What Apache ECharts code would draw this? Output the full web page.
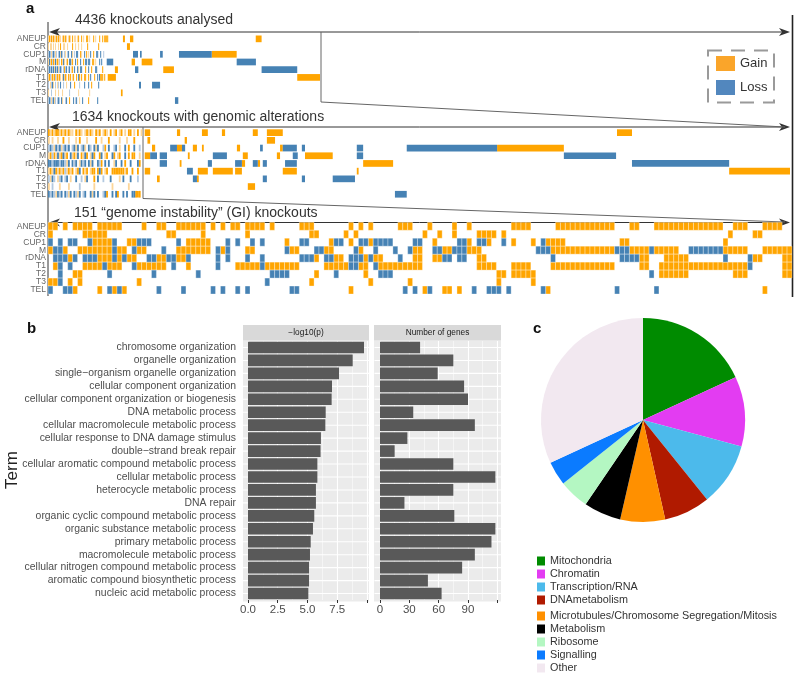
<!DOCTYPE html>
<html><head><meta charset="utf-8">
<script src="https://cdn.jsdelivr.net/npm/echarts@6/dist/echarts.min.js"></script>
<style>html,body{margin:0;padding:0;background:#fff}#c{width:800px;height:676px}</style>
</head><body><div id="c"></div>
<script>
const FONT = '"Liberation Sans", Arial, Helvetica, sans-serif';
const rowNames = ['ANEUP','CR','CUP1','M','rDNA','T1','T2','T3','TEL'];

// Panel a, top: 4436 knockouts. Dense strip: each character = 6 knockouts (G gain, g faint gain, L loss, l faint loss)
const topBin = 6;
const topDense = [
  "gGgGgGggGgGgg.gGgGg.gGg.G.gg.gG..G.g..GG.g...G.g...G..G.GGGG",
  "g.gg.g.g..g.G..gg..g....G..g..g..g.....G..........G.........",
  "lLlglLlgl.lLgLl.lg.lL..Lg.l.LL..Gg..L.G.g.L..G..LL..L..l....",
  "gLgGlGgLgGgl.GgLg.gG.LLgG..L.G..L..G.LL.LL..GG.g...L.L......",
  "lLlLlLgLlLglLl.lGlL.lL.gG.L..Lg.LL...G..L..G...LL.....G.....",
  "gGlgGgGlgGgGg.gLgGg.GgG.gG..G.LG.G..GG..G.L...G..L..GGG.G...",
  "l.glLg.l.gl.L..l..g...L...G....l....L...L..G......L.........",
  "g..l...g..g...g......l........g..........g..................",
  "lLlglLgl.lLl.Lg..lL..G...L.lL..g..L.....G........L.........."
];
// [row, first knockout, last knockout, type]
const topBlocks = [
  [0,448,460,'G'],[0,490,510,'G'],[0,1242,1277,'G'],
  [1,472,490,'G'],
  [2,508,538,'L'],[2,550,560,'L'],[2,670,686,'L'],[2,783,979,'L'],[2,979,1128,'G'],
  [3,351,390,'L'],[3,500,520,'G'],[3,560,624,'G'],[3,1128,1243,'L'],
  [4,400,418,'G'],[4,520,540,'L'],[4,689,753,'G'],[4,1277,1490,'L'],
  [5,305,311,'L'],[5,357,406,'G'],[5,1490,1626,'G'],
  [6,544,556,'L'],[6,622,670,'L'],
  [7,436,446,'G'],
  [8,759,779,'L']
];

// Panel a, middle: 1634 knockouts. Dense strip: each character = 4 knockouts
const midBin = 4;
const midDense = [
  "GgGgGGgGgGgGgg.GgGg.gGgGg.GgG.gGg.G.gG.gG.g.GG.g.G.g",
  "g.g..g..G..g...g.G...g....G..g...G.....g...g...G....",
  "lLlgLlLglLlL.lLgL.lLg.Ll.LgL..lG.L..lL.g..L.G..L..l",
  "gGlGgLgGLgG.LgGgL.GgLG.gLG..GL.gG..LG.gG..L.G.GG..g",
  "LLlLLLlLLlgL.LlL.gLlL.LgL..LlG.L.L..gL..L.G..L...LG",
  "gGgLGgGgGlgGgG.gGL.GgG.gGG.GLG.gG..GGGGGGGgG..G..G.",
  "lgLl.glL.lL.g..L..l.gL...G.L..l...L....g.L...L...l.",
  "g.l...g....g.....l.......g.........g........g......",
  "LlLlgLlL.LlgL.LlgL.lL..LgL.L..lLG..L.LG..L.L..LLGGG"
];
const midBlocks = [
  [0,213,225,'G'],[0,284,291,'G'],[0,339,352,'G'],[0,383,390,'G'],[0,451,462,'G'],[0,482,517,'G'],[0,1253,1286,'G'],
  [1,219,225,'G'],[1,301,306,'G'],[1,482,500,'G'],
  [2,229,236,'G'],[2,269,284,'L'],[2,284,295,'G'],[2,295,302,'L'],[2,319,328,'G'],[2,339,343,'G'],[2,416,423,'G'],[2,467,473,'L'],[2,511,517,'G'],[2,517,548,'L'],[2,559,566,'L'],[2,680,694,'L'],[2,790,989,'L'],[2,989,1136,'G'],
  [3,213,225,'G'],[3,225,240,'L'],[3,246,262,'L'],[3,308,312,'G'],[3,363,394,'L'],[3,429,440,'G'],[3,504,511,'G'],[3,539,550,'L'],[3,566,627,'G'],[3,680,694,'L'],[3,1136,1251,'L'],
  [4,246,262,'L'],[4,290,294,'G'],[4,352,361,'L'],[4,412,427,'L'],[4,427,434,'G'],[4,451,462,'L'],[4,462,467,'G'],[4,473,482,'L'],[4,522,548,'L'],[4,694,760,'G'],[4,1286,1500,'L'],
  [5,213,225,'G'],[5,306,319,'L'],[5,330,352,'G'],[5,363,407,'G'],[5,412,427,'G'],[5,517,548,'G'],[5,680,684,'G'],[5,1500,1634,'G'],
  [6,240,246,'G'],[6,319,328,'L'],[6,328,332,'G'],[6,473,482,'L'],[6,559,566,'L'],[6,627,676,'L'],
  [7,440,456,'G'],
  [8,764,790,'L']
];

// Panel a, bottom: 151 GI knockouts, runs of columns per row
const giRuns = [
  "G0-1 G3 G5-8 G10-14 G19 G22-23 G26-31 G33 G35 G37-38 G40-43 G45 G51-53 G61 G63 G65 G71-73 G77 G82 G85 G94-97 G103-114 G118-119 G123-136 G139-141 G145-148",
  "G0 G7-11 G24-25 G31 G40 G53-54 G60 G62 G76 G79 G82 G87-90 G92 G138 G143-144",
  "L0 L2 L4-5 L8 G9-12 L13 G16-17 L18-20 L26 G28-32 L36 L38 L41 L43 G48 L51-52 G57 L58-59 G61 L63-64 G65 L66-69 L74-75 G78 L83-84 G85 L87-88 G89 L92 G94 G98 L100 G101-104 G116-117 G137",
  "G0 L1-2 G3 G6-12 L13 G14-15 L17 G18-19 L23 G26-32 L34 G35 L36 G40-41 L48 G49-50 L54-55 G56-57 L62 G63 L66 L70 L73 G74-75 L78-79 G80-81 L82-84 G85-87 L99-101 G102-114 L115-117 G118-121 L122 G123-127 L130-136 G137-141 G145-150",
  "L1-3 G4 L5 L7-9 G10-12 L13 G14 L15 G16-17 L20-21 G22-23 L24-25 G26-27 L28 L34 L36 L40 L43 L51-53 G54 L56-57 G58-59 L61-63 G64 L65 G66-67 L71 G74-75 G78-79 L80-81 L83-84 G87-88 L102 L116-119 G120-121 G125-129 L137 L142 G143-144 G149-150",
  "G1 L2 L4 G7-10 L11 G12-14 L17 G18-23 L25 G28 L34 G38-42 L43 G44-50 G56-60 L61-62 G63-64 L66 G67-75 G87-90 G94-97 G102-114 G120-121 G124-141 L142 G149-150",
  "L2 G5-6 L12 L21 L30 L45-48 G54 L58 G64 L67-69 G91-92 G94-98 L122 G124-129 G139-141 G149-150",
  "G0-1 L2 G4 G6 G18 L44 G53 G65 G73 G91 G98",
  "L0 L3-4 G5 G10 L12 G13 L14 G15 L22 L27 L33 L35 L38 L40 L49-50 G61 L72 L74 G76 L77 G80-81 G83 L86 L89-91 L93 L100 G101 L115 L123 G145"
];

// Panel b
const terms = ['chromosome organization','organelle organization','single\u2212organism organelle organization','cellular component organization','cellular component organization or biogenesis','DNA metabolic process','cellular macromolecule metabolic process','cellular response to DNA damage stimulus','double\u2212strand break repair','cellular aromatic compound metabolic process','cellular metabolic process','heterocycle metabolic process','DNA repair','organic cyclic compound metabolic process','organic substance metabolic process','primary metabolic process','macromolecule metabolic process','cellular nitrogen compound metabolic process','aromatic compound biosynthetic process','nucleic acid metabolic process'];
const logP = [9.75, 8.8, 7.65, 7.06, 7.03, 6.53, 6.5, 6.13, 6.1, 5.83, 5.83, 5.71, 5.71, 5.57, 5.46, 5.27, 5.21, 5.13, 5.13, 5.07];
const geneCount = [41, 75, 59, 86, 90, 34, 97, 28, 15, 75, 118, 75, 25, 76, 118, 114, 97, 84, 49, 63];
const logTicks = [0, 2.5, 5, 7.5, 10];
const logLabels = [0, 2.5, 5, 7.5];
const geneTicks = [0, 30, 60, 90, 120];
const geneLabels = [0, 30, 60, 90];

// Panel c
const pieNames = ['Mitochondria','Chromatin','Transcription/RNA','DNAmetabolism','Microtubules/Chromosome Segregation/Mitosis','Metabolism','Ribosome','Signalling','Other'];
const pieValues = [18.1, 11.1, 10.0, 7.3, 7.1, 5.9, 4.8, 3.8, 31.9];
const pieColors = ['#008B00','#E33CF2','#4CBAEB','#B01A00','#FF9000','#000000','#B4F7C2','#0B7BFF','#F2E8F0'];

// ---------- build ----------
const SHADE = ['#FFA500', '#FCD699', '#4682B4', '#B3C9E0'];
const CODE = {G:0, g:1, L:2, l:3};
function fromDense(strs, bin) {
  const out = [];
  strs.forEach((s, r) => { for (let k = 0; k < s.length; k++) { const ch = s[k]; if (ch in CODE) out.push([k*bin, (k+1)*bin, r, CODE[ch]]); } });
  return out;
}
function fromBlocks(bl) { return bl.map(b => [b[1], b[2], b[0], CODE[b[3]]]); }
function fromRuns(rows) {
  const out = [];
  rows.forEach((s, r) => s.trim().split(/\s+/).forEach(tok => {
    const t = tok[0]; const parts = tok.slice(1).split('-').map(Number);
    const a = parts[0], e = parts.length > 1 ? parts[1] : parts[0];
    for (let i = a; i <= e; i++) out.push([i, i+1, r, CODE[t]]);
  }));
  return out;
}
const heatData = [
  fromDense(topDense, topBin).concat(fromBlocks(topBlocks)),
  fromDense(midDense, midBin).concat(fromBlocks(midBlocks)),
  fromRuns(giRuns)
];

function heatRender(gap, cellStroke) {
  return function (params, api) {
    const r = api.value(2);
    const p0 = api.coord([api.value(0), r]);
    const p1 = api.coord([api.value(1), r]);
    const h = api.size([0, 1])[1];
    const w = Math.max(p1[0] - p0[0], 0.9);
    return {type: 'rect', shape: {x: p0[0], y: p0[1] - h/2 + gap/2, width: w, height: h - gap},
      style: {fill: SHADE[api.value(3)], stroke: cellStroke || null, lineWidth: cellStroke ? 0.6 : 0}};
  };
}

const heatSeries = [];
heatData.forEach((d, gi) => {
  const render = gi === 2 ? heatRender(0, 'rgba(255,255,255,0.55)') : heatRender(1, null);
  heatSeries.push({type: 'custom', name: 'Gain', xAxisIndex: gi, yAxisIndex: gi, itemStyle: {color: '#FAA52A'},
    data: d.filter(x => x[3] < 2), encode: {x: [0, 1], y: 2}, renderItem: render, silent: true});
  heatSeries.push({type: 'custom', name: 'Loss', xAxisIndex: gi, yAxisIndex: gi, itemStyle: {color: '#5287BE'},
    data: d.filter(x => x[3] >= 2), encode: {x: [0, 1], y: 2}, renderItem: render, silent: true});
});

function barRender(params, api) {
  const i = api.value(1);
  const p0 = api.coord([0, i]);
  const p1 = api.coord([api.value(0), i]);
  const band = api.size([0, 1])[1];
  const cs = params.coordSys;
  return {type: 'group', children: [
    {type: 'line', shape: {x1: cs.x - 5.5, y1: p0[1], x2: cs.x + cs.width, y2: p0[1]}, style: {stroke: '#FFFFFF', lineWidth: 1.1}},
    {type: 'rect', shape: {x: p0[0], y: p0[1] - band*0.45, width: p1[0] - p0[0], height: band*0.9}, style: {fill: '#595959'}}
  ]};
}

const heatY = (gi) => ({type: 'category', gridIndex: gi, data: rowNames, inverse: true,
  axisLine: {show: false}, splitLine: {show: false},
  axisTick: {alignWithLabel: true, interval: 0, length: 3, lineStyle: {color: '#777'}},
  axisLabel: {interval: 0, fontSize: 8.5, color: '#666', margin: 2, fontFamily: FONT}});
const heatX = (gi, max) => ({type: 'value', gridIndex: gi, min: 0, max: max, show: false});

const barX = (gi, max, interval, ticks, labels, fmt) => ({type: 'value', gridIndex: gi, min: 0, max: max, interval: interval,
  axisLine: {show: false},
  axisTick: {show: true, length: 3, lineStyle: {color: '#333'}, customValues: ticks},
  axisLabel: {fontSize: 11.5, color: '#4D4D4D', margin: 4, fontFamily: FONT, customValues: labels, formatter: fmt,
    showMaxLabel: true, showMinLabel: true},
  splitLine: {show: true, lineStyle: {color: '#FFFFFF', width: 1.1}},
  minorTick: {show: false, splitNumber: 2},
  minorSplitLine: {show: true, lineStyle: {color: '#FFFFFF', width: 0.5}}});

function arrow(y, x0, x1) {
  const c = '#333';
  return [
    {type: 'line', shape: {x1: x0 + 6, y1: y, x2: x1 - 6, y2: y}, style: {stroke: c, lineWidth: 1}},
    {type: 'polygon', shape: {points: [[x0, y], [x0 + 11, y - 4], [x0 + 8, y], [x0 + 11, y + 4]]}, style: {fill: c}},
    {type: 'polygon', shape: {points: [[x1, y], [x1 - 11, y - 4], [x1 - 8, y], [x1 - 11, y + 4]]}, style: {fill: c}}
  ];
}
const txt = (x, y, text, font, fill, align, extra) => Object.assign({type: 'text', x: x, y: y,
  style: {text: text, font: font, fill: fill || '#333', textAlign: align || 'left', textVerticalAlign: 'middle'}}, extra || {});

const graphics = [
  txt(26, 9, 'a', 'bold 15px ' + FONT, '#111'),
  txt(75, 20, '4436 knockouts analysed', '14px ' + FONT, '#333'),
  txt(72, 117, '1634 knockouts with genomic alterations', '14px ' + FONT, '#333'),
  txt(74, 213.5, '151 \u201cgenome instability\u201d (GI) knockouts', '14px ' + FONT, '#333'),
  ...arrow(32, 49, 790), ...arrow(127, 49, 790), ...arrow(222.5, 49, 790),
  {type: 'line', shape: {x1: 48, y1: 22, x2: 48, y2: 296}, style: {stroke: '#333', lineWidth: 1}},
  {type: 'line', shape: {x1: 792.5, y1: 15, x2: 792.5, y2: 297}, style: {stroke: '#222', lineWidth: 1.6}},
  {type: 'polyline', shape: {points: [[321, 32], [321, 102], [785, 127]]}, style: {stroke: '#666', lineWidth: 1, fill: null}},
  {type: 'polyline', shape: {points: [[143, 127], [143, 198.5], [785, 222]]}, style: {stroke: '#666', lineWidth: 1, fill: null}},
  {type: 'rect', shape: {x: 708, y: 50.5, width: 66, height: 52}, style: {stroke: '#9A9A9A', lineWidth: 2, fill: null, lineDash: [14, 9]}},
  // panel b
  txt(27, 329, 'b', 'bold 15px ' + FONT, '#111'),
  {type: 'rect', z: -1, shape: {x: 243, y: 340.5, width: 126, height: 261}, style: {fill: '#EBEBEB'}},
  {type: 'rect', z: -1, shape: {x: 374, y: 340.5, width: 127, height: 261}, style: {fill: '#EBEBEB'}},
  {type: 'rect', shape: {x: 243, y: 325, width: 126, height: 15.5}, style: {fill: '#D9D9D9'}},
  {type: 'rect', shape: {x: 374, y: 325, width: 127, height: 15.5}, style: {fill: '#D9D9D9'}},
  txt(306, 333, '\u2212log10(p)', '8.3px ' + FONT, '#1A1A1A', 'center'),
  txt(437.5, 333, 'Number of genes', '8.3px ' + FONT, '#1A1A1A', 'center'),
  txt(12, 470, 'Term', '17px ' + FONT, '#222', 'center', {rotation: Math.PI / 2}),
  // panel c
  txt(533, 329, 'c', 'bold 15px ' + FONT, '#111')
];

const pieLegend = (names, top) => ({data: names, orient: 'vertical', left: 537, top: top, padding: 0,
  itemWidth: 8, itemHeight: 9, itemGap: 0, icon: 'rect', selectedMode: false,
  textStyle: {fontSize: 10.8, lineHeight: 13, height: 13, color: '#333', fontFamily: FONT}});

const chart = echarts.init(document.getElementById('c'), null, {renderer: 'canvas', width: 800, height: 676});
chart.setOption({
  animation: false,
  backgroundColor: '#FFFFFF',
  textStyle: {fontFamily: FONT},
  grid: [
    {left: 48, top: 35, width: 742, height: 69.4},
    {left: 48, top: 128.8, width: 742, height: 69.3},
    {left: 48, top: 222.3, width: 744, height: 71.7},
    {left: 248, top: 341, width: 121, height: 259},
    {left: 380, top: 341, width: 121, height: 259}
  ],
  xAxis: [
    heatX(0, 4436), heatX(1, 1634), heatX(2, 151),
    barX(3, 10.17, 2.5, logTicks, logLabels, v => Number(v).toFixed(1)),
    barX(4, 123.75, 30, geneTicks, geneLabels, v => String(v))
  ],
  yAxis: [
    heatY(0), heatY(1), heatY(2),
    {type: 'category', gridIndex: 3, data: terms, inverse: true, offset: 5,
      axisLine: {show: false}, splitLine: {show: false},
      axisTick: {alignWithLabel: true, interval: 0, length: 3, lineStyle: {color: '#333'}},
      axisLabel: {interval: 0, fontSize: 10.4, color: '#4D4D4D', margin: 7, fontFamily: FONT}},
    {type: 'category', gridIndex: 4, data: terms, inverse: true,
      axisLine: {show: false}, splitLine: {show: false}, axisTick: {show: false}, axisLabel: {show: false}}
  ],
  legend: [
    {data: ['Gain', 'Loss'], orient: 'vertical', left: 716, top: 56, padding: 0, itemWidth: 19, itemHeight: 15, itemGap: 9,
      icon: 'rect', selectedMode: false, textStyle: {fontSize: 13, color: '#333', fontFamily: FONT}},
    pieLegend(pieNames.slice(0, 4), 554.5),
    pieLegend(pieNames.slice(4), 609.5)
  ],
  graphic: graphics,
  series: [
    ...heatSeries,
    {type: 'custom', name: 'logp', xAxisIndex: 3, yAxisIndex: 3, data: logP.map((v, i) => [v, i]), encode: {x: 0, y: 1}, renderItem: barRender, silent: true},
    {type: 'custom', name: 'genes', xAxisIndex: 4, yAxisIndex: 4, data: geneCount.map((v, i) => [v, i]), encode: {x: 0, y: 1}, renderItem: barRender, silent: true},
    {type: 'pie', center: [643, 420], radius: 102, startAngle: 90, clockwise: true, silent: true,
      label: {show: false}, labelLine: {show: false},
      data: pieNames.map((n, i) => ({name: n, value: pieValues[i], itemStyle: {color: pieColors[i]}}))}
  ]
});
</script>
</body></html>
